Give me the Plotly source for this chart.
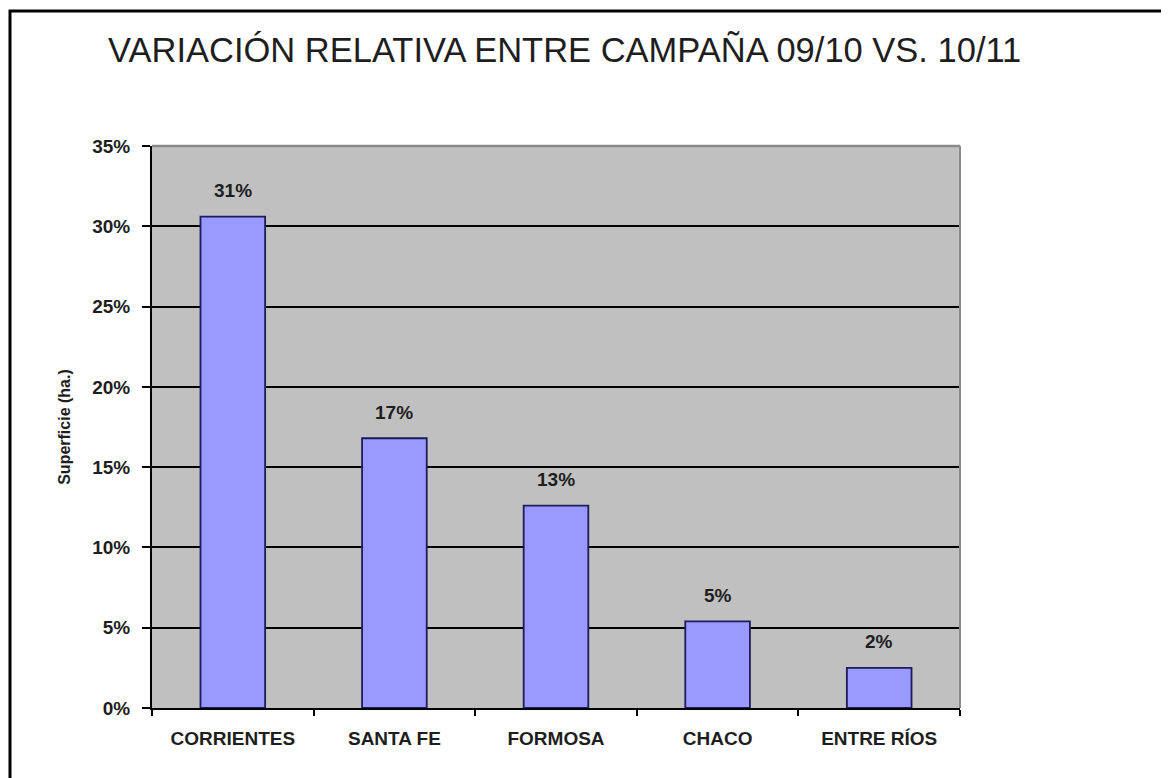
import plotly.graph_objects as go

categories = ["CORRIENTES", "SANTA FE", "FORMOSA", "CHACO", "ENTRE RÍOS"]
values = [0.306, 0.168, 0.126, 0.054, 0.025]
labels = ["31%", "17%", "13%", "5%", "2%"]
tick_vals = [0, 0.05, 0.10, 0.15, 0.20, 0.25, 0.30, 0.35]
tick_text = ["0%", "5%", "10%", "15%", "20%", "25%", "30%", "35%"]

FONT = "Liberation Sans, Arial, sans-serif"
TXT = "#1e1e1e"

# page has an 8px body margin; figure coordinates = reference - 8
W, H = 1161, 770
L, R, T, B = 144, 952, 138, 700
PW, PH = R - L, B - T

fig = go.Figure()
fig.add_trace(go.Bar(
    x=categories, y=values,
    marker=dict(color="#9999FF", line=dict(color="#1c1c5a", width=1.8)),
    hoverinfo="skip",
))

for c, v, t in zip(categories, values, labels):
    fig.add_annotation(x=c, y=v, text=t, showarrow=False, yanchor="middle",
                       yshift=26, font=dict(family=FONT, size=19, color=TXT, weight="bold"))

fig.update_layout(
    width=W, height=H,
    margin=dict(l=L, r=W - R, t=T, b=H - B),
    paper_bgcolor="white", plot_bgcolor="#C0C0C0",
    showlegend=False, bargap=0.6,
    title=dict(text="VARIACIÓN RELATIVA ENTRE CAMPAÑA 09/10 VS. 10/11",
               x=100/W, xanchor="left", y=1-42/H, yanchor="middle",
               font=dict(family=FONT, size=34.5, color=TXT)),
    font=dict(family=FONT, color=TXT),
)

fig.update_xaxes(
    showgrid=False, showline=True, linecolor="black", linewidth=2,
    ticks="outside", tickson="boundaries", ticklen=6, tickcolor="black", tickwidth=1.5,
    ticklabelstandoff=12,
    tickfont=dict(family=FONT, size=19, color=TXT, weight="bold"),
)
fig.update_yaxes(
    range=[0, 0.35], tickvals=tick_vals, ticktext=tick_text,
    showgrid=True, gridcolor="black", gridwidth=1.5, zeroline=False,
    showline=True, linecolor="black", linewidth=2,
    ticks="outside", ticklen=8, tickcolor="black", tickwidth=1.5,
    ticklabelstandoff=8,
    tickfont=dict(family=FONT, size=19, color=TXT, weight="bold"),
    title=dict(text="Superficie (ha.)", standoff=18,
               font=dict(family=FONT, size=16, color=TXT, weight="bold")),
)

# plot-area border (top/right, gray)
fig.add_shape(type="line", xref="paper", yref="paper", x0=0, x1=1, y0=1, y1=1,
              line=dict(color="#8a8a8a", width=2.5), layer="above")
fig.add_shape(type="line", xref="paper", yref="paper", x0=1, x1=1, y0=0, y1=1,
              line=dict(color="#8a8a8a", width=2), layer="above")

# outer chart border
fig.add_shape(type="rect", xref="paper", yref="paper",
              x0=(2-L)/PW, x1=(W + 20 - L)/PW, y0=(B-(H + 20))/PH, y1=(B-3)/PH,
              line=dict(color="black", width=3), fillcolor="rgba(0,0,0,0)", layer="above")

fig.write_html("out.html")
